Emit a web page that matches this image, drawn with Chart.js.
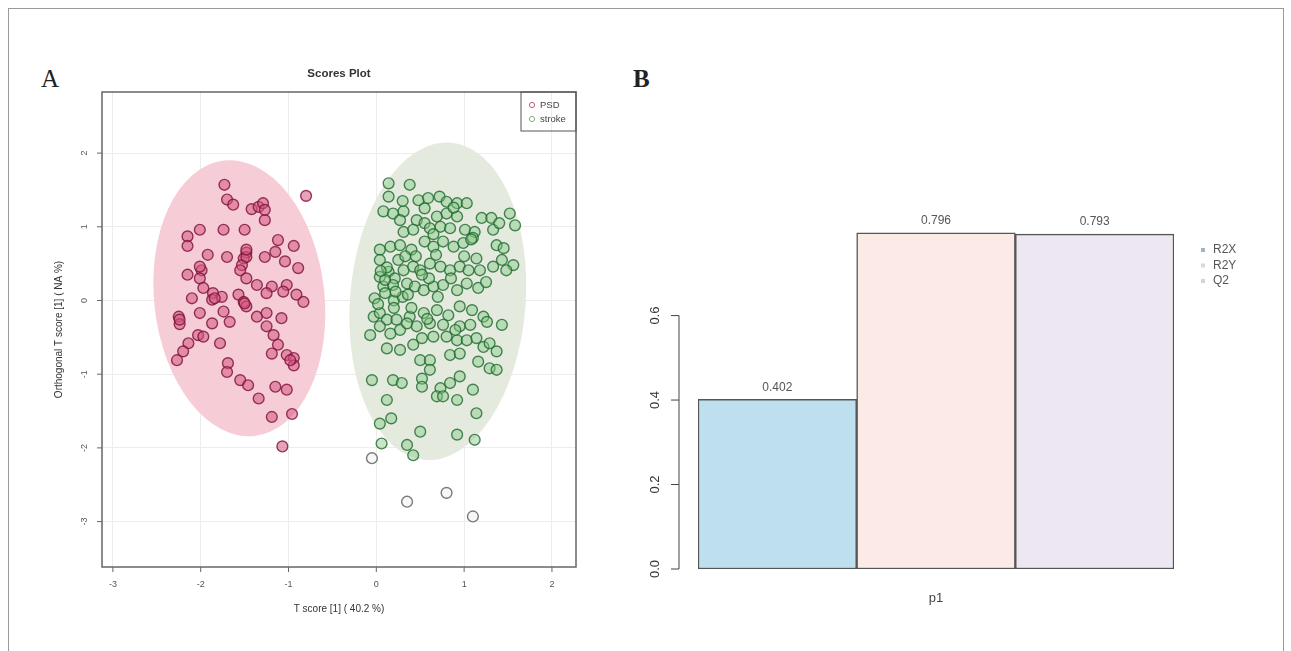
<!DOCTYPE html>
<html>
<head>
<meta charset="utf-8">
<script src="https://cdn.jsdelivr.net/npm/chart.js@4.4.0/dist/chart.umd.min.js"></script>
<style>
  body { margin: 0; background: #fff; width: 1291px; height: 651px; overflow: hidden; position: relative; font-family: "Liberation Sans", Arial, sans-serif; }
  .frame { position: absolute; left: 8px; top: 8px; width: 1274px; height: 700px; border: 1px solid #9a9a9a; }
  .tag { position: absolute; font-family: "Liberation Serif", "Times New Roman", serif; font-size: 25px; line-height: 25px; color: #222; }
  #wrapA { position: absolute; left: 30px; top: 55px; width: 570px; height: 575px; }
  #wrapB { position: absolute; left: 600px; top: 55px; width: 680px; height: 575px; }
</style>
</head>
<body>
<div class="frame"></div>
<div class="tag" style="left:41px; top:66px;">A</div>
<div class="tag" style="left:633px; top:66px; font-weight:bold;">B</div>
<div id="wrapA"><canvas id="scores" width="570" height="575"></canvas></div>
<div id="wrapB"><canvas id="quality" width="680" height="575"></canvas></div>
<script>
// ---- panel A: OPLS-DA scores ----
const groups = ["PSD", "stroke"];
const psdX = [-1.73,-0.80,-1.70,-1.63,-1.42,-1.34,-1.29,-1.27,-2.01,-2.15,
  -2.15,-1.74,-1.50,-1.12,-0.94,-1.92,-1.70,-1.48,-1.51,-1.53,
  -1.27,-1.15,-1.04,-0.89,-2.15,-1.99,-2.01,-1.55,-1.48,-1.36,
  -1.19,-1.02,-1.97,-1.86,-1.76,-1.87,-2.10,-1.57,-1.51,-1.48,
  -1.25,-1.06,-0.91,-0.83,-2.25,-2.24,-2.01,-1.87,-1.74,-1.67,
  -1.36,-1.25,-1.08,-1.25,-1.17,-2.03,-1.97,-2.14,-2.20,-2.27,
  -1.78,-1.12,-1.19,-1.02,-0.94,-0.94,-1.69,-1.70,-1.55,-1.46,
  -1.34,-1.15,-1.02,-1.19,-0.96,-1.07,-1.48,-2.01,-1.84,-1.50,
  -2.24,-0.98,-1.27,-1.48];
const psdY = [1.57,1.42,1.37,1.30,1.24,1.27,1.32,1.09,0.96,0.87,
  0.74,0.96,0.96,0.82,0.74,0.62,0.59,0.65,0.57,0.48,
  0.59,0.66,0.53,0.44,0.35,0.41,0.30,0.41,0.30,0.21,
  0.19,0.21,0.17,0.10,0.05,0.01,0.03,0.08,-0.02,-0.08,
  0.10,0.12,0.08,-0.02,-0.22,-0.32,-0.17,-0.31,-0.15,-0.29,
  -0.22,-0.17,-0.24,-0.35,-0.47,-0.47,-0.49,-0.58,-0.69,-0.81,
  -0.58,-0.60,-0.72,-0.74,-0.78,-0.88,-0.85,-0.97,-1.08,-1.15,
  -1.33,-1.17,-1.21,-1.58,-1.54,-1.98,0.59,0.46,0.03,-0.04,
  -0.26,-0.81,1.23,0.69];
const strokeX = [0.14,0.38,0.14,0.48,0.59,0.72,0.80,0.92,1.03,0.08,
  0.19,0.31,0.27,0.46,0.55,0.69,0.80,0.92,1.20,1.31,
  1.52,1.58,0.31,0.42,0.61,0.73,0.84,1.01,1.12,1.33,
  0.04,0.16,0.27,0.40,0.55,0.65,0.76,0.88,0.99,1.14,
  1.37,1.45,1.43,1.56,0.04,0.04,0.14,0.21,0.31,0.42,
  0.50,0.61,0.73,0.84,0.95,1.05,1.18,1.33,1.48,-0.02,
  0.08,0.19,0.35,0.44,0.54,0.65,0.76,0.92,1.03,1.16,
  -0.03,0.04,0.12,0.23,0.38,0.54,0.69,0.82,0.95,1.09,
  1.22,-0.07,0.04,0.16,0.27,0.35,0.46,0.61,0.76,0.95,
  1.07,1.26,1.43,0.12,0.27,0.42,0.52,0.65,0.80,0.92,
  1.03,1.14,1.22,1.37,1.29,0.50,0.61,0.84,0.95,1.16,
  1.29,1.37,0.61,-0.05,0.19,0.29,0.52,0.52,0.73,0.84,
  0.95,1.10,0.69,0.76,0.92,0.12,0.17,0.04,0.50,0.92,
  1.12,1.14,0.06,0.35,0.42,-0.05,0.35,0.80,1.10,
  0.10,0.02,0.20,0.30,0.12,0.25,0.45,0.60,0.70,0.85,
  1.00,1.10,0.20,0.10,0.55,0.65,1.25,0.40,0.90,1.40,
  0.30,0.05,0.22,0.36,0.52,0.68,0.88,1.08,0.33,0.58];
const strokeY = [1.59,1.57,1.41,1.36,1.39,1.41,1.34,1.32,1.32,1.21,
  1.18,1.21,1.09,1.09,1.05,1.14,1.18,1.14,1.12,1.12,
  1.18,1.02,0.93,0.96,0.98,1.00,0.98,0.96,0.93,0.96,
  0.69,0.73,0.75,0.69,0.80,0.73,0.80,0.73,0.78,0.57,
  0.75,0.71,0.55,0.48,0.55,0.32,0.39,0.30,0.41,0.46,
  0.41,0.50,0.46,0.41,0.46,0.41,0.41,0.46,0.41,0.03,
  0.19,0.21,0.23,0.19,0.14,0.19,0.21,0.14,0.23,0.17,
  -0.22,-0.17,-0.26,-0.26,-0.22,-0.17,-0.13,-0.20,-0.08,-0.13,
  -0.22,-0.47,-0.35,-0.45,-0.40,-0.31,-0.35,-0.31,-0.33,-0.35,
  -0.33,-0.29,-0.33,-0.65,-0.67,-0.60,-0.51,-0.49,-0.49,-0.54,
  -0.54,-0.51,-0.63,-0.69,-0.58,-0.81,-0.81,-0.74,-0.72,-0.83,
  -0.92,-0.94,-0.94,-1.08,-1.08,-1.12,-1.06,-1.17,-1.19,-1.12,
  -1.03,-1.21,-1.30,-1.30,-1.35,-1.35,-1.60,-1.67,-1.78,-1.82,
  -1.89,-1.53,-1.94,-1.96,-2.10,-2.14,-2.73,-2.61,-2.93,
  0.10,-0.05,0.00,0.05,0.45,0.55,0.60,0.30,0.05,0.30,
  0.60,0.85,-0.10,0.28,1.25,0.90,0.25,-0.10,-0.40,1.05,
  1.35,0.40,0.12,0.08,0.35,0.62,1.26,0.83,0.60,-0.25];
const scoreTicks = [-3, -2, -1, 0, 1, 2];
// 95% confidence ellipses, one per group (data units; tilt in radians)
const ellipseX = [-1.56, 0.70];
const ellipseY = [0.03, -0.01];
const ellipseRx = [0.97, 1.00];
const ellipseRy = [1.88, 2.16];
const ellipseTilt = [-0.11, 0.08];

// ---- panel B: model quality ----
const components = ["p1"];
const metrics = ["R2X", "R2Y", "Q2"];
const metricValues = [0.402, 0.796, 0.793];
const qualityTicks = [0, 0.2, 0.4, 0.6];

const ellipseFill = ["rgb(246,205,215)", "rgb(228,235,222)"];
const barFill = ["rgb(190,223,237)", "rgb(252,234,230)", "rgb(237,231,241)"];

function ellipsePx(chart, i) {
  const sx = chart.scales.x, sy = chart.scales.y;
  const cx = sx.getPixelForValue(ellipseX[i]);
  const cy = sy.getPixelForValue(ellipseY[i]);
  return {
    cx, cy,
    rx: Math.abs(sx.getPixelForValue(ellipseX[i] + ellipseRx[i]) - cx),
    ry: Math.abs(sy.getPixelForValue(ellipseY[i] + ellipseRy[i]) - cy),
    rot: ellipseTilt[i]
  };
}

function outsideStroke(c) {
  if (c.type !== "data" || !c.raw) return false;
  const chart = c.chart;
  const e = ellipsePx(chart, 1);
  const dx = chart.scales.x.getPixelForValue(c.raw.x) - e.cx;
  const dy = chart.scales.y.getPixelForValue(c.raw.y) - e.cy;
  const co = Math.cos(e.rot), si = Math.sin(e.rot);
  const u = dx * co + dy * si, v = -dx * si + dy * co;
  return (u * u) / (e.rx * e.rx) + (v * v) / (e.ry * e.ry) > 1.15;
}

const ellipsePlugin = {
  id: "ellipses",
  beforeDatasetsDraw(chart) {
    const ctx = chart.ctx, a = chart.chartArea;
    ctx.save();
    ctx.beginPath();
    ctx.rect(a.left, a.top, a.right - a.left, a.bottom - a.top);
    ctx.clip();
    groups.forEach((g, i) => {
      const e = ellipsePx(chart, i);
      ctx.beginPath();
      ctx.ellipse(e.cx, e.cy, e.rx, e.ry, e.rot, 0, Math.PI * 2);
      ctx.fillStyle = ellipseFill[i];
      ctx.fill();
    });
    ctx.restore();
  }
};

const scoresFrame = {
  id: "scoresFrame",
  afterDraw(chart) {
    const ctx = chart.ctx, a = chart.chartArea;
    const sx = chart.scales.x, sy = chart.scales.y;
    ctx.save();
    ctx.strokeStyle = "#666";
    ctx.lineWidth = 1.5;
    ctx.strokeRect(a.left, a.top, a.right - a.left, a.bottom - a.top);
    ctx.fillStyle = "#555";
    ctx.font = "9px 'Liberation Sans', Arial, sans-serif";
    ctx.textAlign = "center";
    ctx.textBaseline = "middle";
    ctx.lineWidth = 1;
    scoreTicks.forEach(v => {
      const px = sx.getPixelForValue(v);
      ctx.beginPath(); ctx.moveTo(px, a.bottom); ctx.lineTo(px, a.bottom + 5); ctx.stroke();
      ctx.fillText(String(v), px, a.bottom + 18);
      const py = sy.getPixelForValue(v);
      ctx.beginPath(); ctx.moveTo(a.left, py); ctx.lineTo(a.left - 5, py); ctx.stroke();
      ctx.save();
      ctx.translate(a.left - 17, py);
      ctx.rotate(-Math.PI / 2);
      ctx.fillText(String(v), 0, 0);
      ctx.restore();
    });
    ctx.fillStyle = "#333";
    ctx.font = "10px 'Liberation Sans', Arial, sans-serif";
    ctx.fillText("T score [1] ( 40.2 %)", (a.left + a.right) / 2, a.bottom + 42);
    ctx.save();
    ctx.translate(a.left - 43, (a.top + a.bottom) / 2);
    ctx.rotate(-Math.PI / 2);
    ctx.fillText("Orthogonal T score [1] ( NA %)", 0, 0);
    ctx.restore();
    ctx.font = "bold 11.5px 'Liberation Sans', Arial, sans-serif";
    ctx.fillText("Scores Plot", (a.left + a.right) / 2, a.top - 18);
    // legend box
    const lw = 55, lh = 39;
    ctx.strokeStyle = "#555";
    ctx.strokeRect(a.right - lw, a.top, lw, lh);
    ctx.font = "9.5px 'Liberation Sans', Arial, sans-serif";
    ctx.textAlign = "left";
    chart.data.datasets.forEach((ds, i) => {
      const y = a.top + 13 + i * 14;
      ctx.beginPath();
      ctx.arc(a.right - 44, y, 2.6, 0, Math.PI * 2);
      ctx.strokeStyle = ds.legendColor;
      ctx.stroke();
      ctx.fillStyle = "#444";
      ctx.fillText(ds.label, a.right - 36, y);
    });
    ctx.restore();
  }
};

new Chart(document.getElementById("scores"), {
  type: "scatter",
  data: {
    datasets: [
      {
        label: groups[0],
        data: psdX.map((x, i) => ({ x, y: psdY[i] })),
        backgroundColor: "rgba(212,88,128,0.55)",
        borderColor: "rgba(125,15,58,0.8)",
        legendColor: "#c0587a",
        borderWidth: 1.4,
        pointRadius: 5.4
      },
      {
        label: groups[1],
        data: strokeX.map((x, i) => ({ x, y: strokeY[i] })),
        backgroundColor: c => outsideStroke(c) ? "rgba(235,235,235,0.4)" : "rgba(135,200,135,0.45)",
        borderColor: c => outsideStroke(c) ? "#7a7a7a" : "rgba(30,105,45,0.8)",
        legendColor: "#7fb07f",
        borderWidth: 1.4,
        pointRadius: 5.4
      }
    ]
  },
  options: {
    responsive: false,
    animation: false,
    layout: { padding: { left: 72, right: 24, top: 37, bottom: 63 } },
    plugins: { legend: { display: false }, tooltip: { enabled: false } },
    scales: {
      x: {
        type: "linear", min: -3.124, max: 2.274,
        ticks: { display: false, stepSize: 1, includeBounds: false },
        grid: { color: "#ececec", drawTicks: false },
        border: { display: false }
      },
      y: {
        type: "linear", min: -3.616, max: 2.829,
        ticks: { display: false, stepSize: 1, includeBounds: false },
        grid: { color: "#ececec", drawTicks: false },
        border: { display: false }
      }
    }
  },
  plugins: [ellipsePlugin, scoresFrame]
});

const qualityFrame = {
  id: "qualityFrame",
  afterDraw(chart) {
    const ctx = chart.ctx, a = chart.chartArea, sy = chart.scales.y;
    const ax = a.left - 19;
    ctx.save();
    ctx.strokeStyle = "#444";
    ctx.lineWidth = 1;
    ctx.beginPath();
    ctx.moveTo(ax, sy.getPixelForValue(qualityTicks[0]));
    ctx.lineTo(ax, sy.getPixelForValue(qualityTicks[qualityTicks.length - 1]));
    ctx.stroke();
    ctx.fillStyle = "#333";
    ctx.font = "13px 'Liberation Sans', Arial, sans-serif";
    ctx.textAlign = "center";
    ctx.textBaseline = "middle";
    qualityTicks.forEach(v => {
      const py = sy.getPixelForValue(v);
      ctx.beginPath(); ctx.moveTo(ax, py); ctx.lineTo(ax - 8, py); ctx.stroke();
      ctx.save();
      ctx.translate(ax - 24, py);
      ctx.rotate(-Math.PI / 2);
      ctx.fillText(v.toFixed(1), 0, 0);
      ctx.restore();
    });
    // value labels
    ctx.fillStyle = "#555";
    ctx.font = "12px 'Liberation Sans', Arial, sans-serif";
    chart.data.datasets.forEach((ds, i) => {
      const bar = chart.getDatasetMeta(i).data[0];
      ctx.fillText(ds.data[0].toFixed(3), bar.x, bar.y - 12);
    });
    ctx.fillStyle = "#444";
    ctx.font = "13px 'Liberation Sans', Arial, sans-serif";
    ctx.fillText(components[0], (a.left + a.right) / 2, a.bottom + 29);
    // legend
    ctx.textAlign = "left";
    ctx.font = "12px 'Liberation Sans', Arial, sans-serif";
    chart.data.datasets.forEach((ds, i) => {
      const y = a.top + 40 + i * 15.5;
      ctx.fillStyle = ["#9fb6c2", "#e6d6d3", "#d8d0de"][i];
      ctx.fillRect(a.right + 27, y - 2, 4, 4);
      ctx.fillStyle = "#555";
      ctx.fillText(ds.label, a.right + 39, y);
    });
    ctx.restore();
  }
};

new Chart(document.getElementById("quality"), {
  type: "bar",
  data: {
    labels: components,
    datasets: metrics.map((m, i) => ({
      label: m,
      data: [metricValues[i]],
      backgroundColor: barFill[i],
      borderColor: "#555",
      borderWidth: 1.5,
      borderSkipped: false,
      categoryPercentage: 1,
      barPercentage: 1
    }))
  },
  options: {
    responsive: false,
    animation: false,
    layout: { padding: { left: 98, right: 106, top: 155, bottom: 61 } },
    plugins: { legend: { display: false }, tooltip: { enabled: false } },
    scales: {
      x: { display: false },
      y: { display: false, min: 0, max: 0.85 }
    }
  },
  plugins: [qualityFrame]
});
</script>
</body>
</html>
